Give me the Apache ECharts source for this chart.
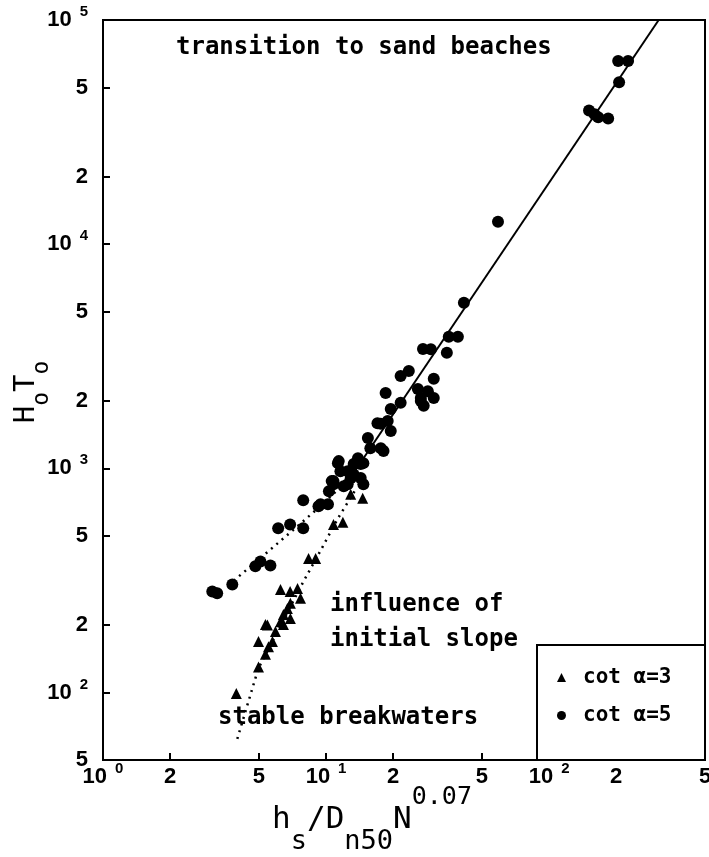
<!DOCTYPE html>
<html><head><meta charset="utf-8">
<script src="https://cdn.jsdelivr.net/npm/echarts@6/dist/echarts.min.js"></script>
<style>html,body{margin:0;padding:0;background:#fff}#c{width:709px;height:857px}</style>
</head><body><div id="c"></div>
<script>
// ---- data ----
const xTicks = [1, 2, 5, 10, 20, 50, 100, 200, 500];
const yTicks = [50, 100, 200, 500, 1000, 2000, 5000, 10000, 20000, 50000, 100000];
const seriesNames = ['cot α=3', 'cot α=5'];

// cot α = 3 (triangles)
const cot3Points = [
  [3.96, 99], [4.98, 130], [5.35, 148], [5.52, 160], [5.75, 169], [4.98, 169],
  [5.93, 187], [5.35, 201], [5.46, 200], [6.44, 201], [6.25, 207], [6.92, 214],
  [6.44, 223], [6.71, 237], [6.92, 250], [7.68, 263], [6.9, 282], [6.25, 288],
  [7.45, 291], [8.35, 396], [8.98, 396], [10.8, 562], [11.9, 575],
  [12.9, 767], [14.6, 736]
];
// cot α = 5 (circles)
const cot5Points = [
  [3.09, 282], [3.25, 277], [3.8, 303], [4.82, 366], [5.08, 384], [5.63, 369],
  [6.1, 540], [6.9, 562], [7.9, 540], [7.9, 720], [9.25, 678], [9.45, 692], [10.2, 692],
  [10.3, 790], [10.6, 877], [10.8, 877], [10.8, 850], [12.0, 832], [12.5, 850],
  [12.9, 904], [14.3, 905], [14.7, 849], [11.6, 970], [12.5, 971], [13.3, 940],
  [11.4, 1077], [11.3, 1055], [13.3, 1045], [14.3, 1045], [14.7, 1055], [13.9, 1110],
  [18.1, 1195], [17.6, 1230], [15.8, 1230], [15.4, 1365],
  [19.5, 1466], [17.0, 1590], [17.6, 1580], [18.9, 1625], [19.5, 1840], [21.6, 1960],
  [26.6, 1995], [27.4, 1900], [26.6, 2060], [30.4, 2060], [28.6, 2210],
  [18.5, 2170], [25.8, 2260], [30.4, 2510], [21.6, 2580], [23.5, 2720],
  [27.2, 3410], [29.5, 3400], [34.8, 3275], [35.5, 3860], [39.0, 3860], [41.5, 5480],
  [59.0, 12600], [151, 39500], [160, 38000], [166, 36800], [184, 36400],
  [206, 52800], [204, 65600], [226, 65600]
];
// fitted lines
const fitLine = [[12.2, 841], [310, 100000]];
const cot5Trend = [[3.65, 301], [5.52, 427], [7.45, 552], [9.75, 698], [12.9, 914]];
const cot3Trend = [[4.0, 62.1], [4.44, 88], [4.97, 128], [7.92, 313], [9.25, 413], [11.3, 598], [13.6, 807]];

const notes = ['transition to sand beaches', 'influence of', 'initial slope', 'stable breakwaters'];

// ---- chart ----
function tickLabel(v) {
  const e = Math.round(Math.log10(v));
  if (Math.abs(v - Math.pow(10, e)) < 1e-6 * v) return '{b|10}{p|' + e + '}';
  const e2 = Math.floor(Math.log10(v) + 1e-9);
  return '{b|' + Math.round(v / Math.pow(10, e2)) + '}';
}
const labelRich = {
  b: { fontFamily: 'Liberation Sans', fontWeight: 'bold', fontSize: 22, lineHeight: 34, color: '#000' },
  p: { fontFamily: 'Liberation Sans', fontWeight: 'bold', fontSize: 15, lineHeight: 34, color: '#000', padding: [0, 0, 16, 8] }
};
const monoFont = 'DejaVu Sans Mono';
const noteFont = 'bold 24px "DejaVu Sans Mono"';

const chart = echarts.init(document.getElementById('c'), null, { renderer: 'canvas' });
chart.setOption({
  animation: false,
  backgroundColor: '#fff',
  grid: { left: 103, right: 4, top: 20, bottom: 97, show: true, borderColor: '#000', borderWidth: 2, containLabel: false, outerBoundsMode: 'none' },
  xAxis: {
    type: 'log', logBase: 10, min: 1, max: 500,
    axisLine: { lineStyle: { color: '#000', width: 2 } },
    axisTick: { customValues: xTicks, inside: true, length: 7, lineStyle: { color: '#000', width: 2 } },
    axisLabel: { customValues: xTicks, formatter: tickLabel, rich: labelRich, margin: 0, color: '#000' },
    splitLine: { show: false }, minorTick: { show: false }
  },
  yAxis: {
    type: 'log', logBase: 10, min: 50, max: 100000,
    axisLine: { lineStyle: { color: '#000', width: 2 } },
    axisTick: { customValues: yTicks, inside: true, length: 7, lineStyle: { color: '#000', width: 2 } },
    axisLabel: { customValues: yTicks, formatter: tickLabel, rich: labelRich, margin: 15, color: '#000' },
    splitLine: { show: false }, minorTick: { show: false }
  },
  legend: {
    data: seriesNames, orient: 'vertical', left: 557, top: 667, padding: 0,
    itemWidth: 9, itemHeight: 9, itemGap: 17, z: 10,
    itemStyle: { opacity: 1 },
    textStyle: { fontFamily: monoFont, fontWeight: 'bold', fontSize: 21, color: '#000', padding: [0, 0, 0, 12] }
  },
  graphic: [
    { type: 'rect', z: 5, shape: { x: 537, y: 645, width: 168, height: 115 }, style: { fill: '#fff', stroke: '#000', lineWidth: 2 } },
    { type: 'text', x: 176, y: 48, style: { text: notes[0], font: noteFont, fill: '#000', verticalAlign: 'middle' } },
    { type: 'text', x: 330, y: 605, style: { text: notes[1], font: noteFont, fill: '#000', verticalAlign: 'middle' } },
    { type: 'text', x: 330, y: 640, style: { text: notes[2], font: noteFont, fill: '#000', verticalAlign: 'middle' } },
    { type: 'text', x: 218, y: 718, style: { text: notes[3], font: noteFont, fill: '#000', verticalAlign: 'middle' } },
    { type: 'text', x: 372, y: 820, style: {
        text: '{m|h}{s|s}{m|/D}{s|n50}{m|N}{p|0.07}', align: 'center', verticalAlign: 'middle',
        rich: {
          m: { fontFamily: monoFont, fontSize: 31, color: '#000' },
          s: { fontFamily: monoFont, fontSize: 27, color: '#000', padding: [44, 0, 0, 0] },
          p: { fontFamily: monoFont, fontSize: 25, color: '#000', padding: [0, 0, 46, 0] }
        } } },
    { type: 'text', x: 26, y: 392, rotation: Math.PI / 2, style: {
        text: '{m|H}{s|o}{m|T}{s|o}', align: 'center', verticalAlign: 'middle',
        rich: {
          m: { fontFamily: monoFont, fontSize: 29, color: '#000' },
          s: { fontFamily: monoFont, fontSize: 23, color: '#000', padding: [32, 0, 0, 0] }
        } } }
  ],
  series: [
    { name: 'fit', type: 'line', data: fitLine, symbol: 'none', lineStyle: { color: '#000', width: 2 }, z: 1, silent: true },
    { name: 'trend5', type: 'line', data: cot5Trend, symbol: 'none', lineStyle: { color: '#000', width: 2.5, type: [2, 5] }, z: 1, silent: true },
    { name: 'trend3', type: 'line', data: cot3Trend, symbol: 'none', lineStyle: { color: '#000', width: 2.5, type: [2, 5] }, z: 1, silent: true },
    { name: seriesNames[0], type: 'scatter', data: cot3Points, symbol: 'triangle', symbolSize: 11, itemStyle: { color: '#000', opacity: 1 }, z: 3 },
    { name: seriesNames[1], type: 'scatter', data: cot5Points, symbol: 'circle', symbolSize: 12, itemStyle: { color: '#000', opacity: 1 }, z: 3 }
  ]
});
</script>
</body></html>
